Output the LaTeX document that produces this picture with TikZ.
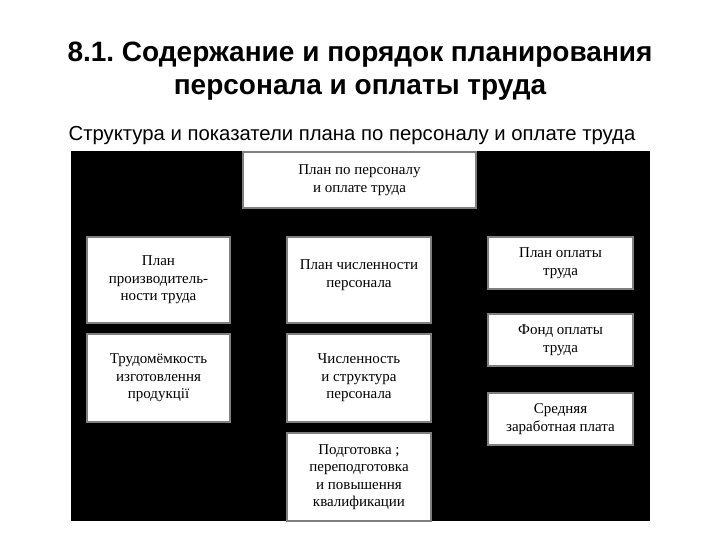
\documentclass[tikz,border=0pt]{standalone}
\usepackage{fontspec}
\setmainfont{Liberation Serif}
\newfontfamily\titlefont{Liberation Sans}
\frenchspacing
\begin{document}
\begin{tikzpicture}[x=1bp,y=-1bp,
  box/.style={draw=black!50, line width=2.5bp, fill=white, align=center, inner sep=2bp,
    font=\fontsize{15bp}{17.5bp}\selectfont},
  conn/.style={draw=black, line width=1.5bp}]
\useasboundingbox (0,0) rectangle (720,540);
\fill[white] (0,0) rectangle (720,540);
\node[font=\titlefont\bfseries\fontsize{28bp}{33bp}\selectfont, align=center, anchor=base] (title) at (360,95)
  {8.1. Содержание и порядок планирования\\персонала и оплаты труда};
\node[font=\titlefont\fontsize{20.3bp}{24bp}\selectfont, anchor=base] (sub) at (352,141)
  {Структура и показатели плана по персоналу и оплате труда};
\fill[black] (71,151) rectangle (650,521);
\node[box, minimum width=233bp, minimum height=56bp] (top) at (359.5,180) {План по персоналу\\и оплате труда};
\node[box, minimum width=143bp, minimum height=86bp] (l1) at (158.5,280) {План\\производитель-\\ности труда};
\node[box, minimum width=143bp, minimum height=88bp] (l2) at (158.5,378) {Трудомёмкость\\изготовлення\\продукції};
\node[box, minimum width=144bp, minimum height=86bp] (m1) at (359,280) {План численности\\персонала\\[-5bp]\mbox{}};
\node[box, minimum width=144bp, minimum height=88bp] (m2) at (359,378) {Численность\\и структура\\персонала};
\node[box, minimum width=144bp, minimum height=88bp] (m3) at (359,477) {Подготовка ;\\переподготовка\\и повышення\\квалификации};
\node[box, minimum width=145bp, minimum height=52bp] (r1) at (560.5,263) {План оплаты\\труда};
\node[box, minimum width=145bp, minimum height=52bp] (r2) at (560.5,340) {Фонд оплаты\\труда};
\node[box, minimum width=145bp, minimum height=52bp] (r3) at (560.5,419) {Средняя\\заработная плата};
\draw[conn] (top) -- (m1);
\end{tikzpicture}
\end{document}
